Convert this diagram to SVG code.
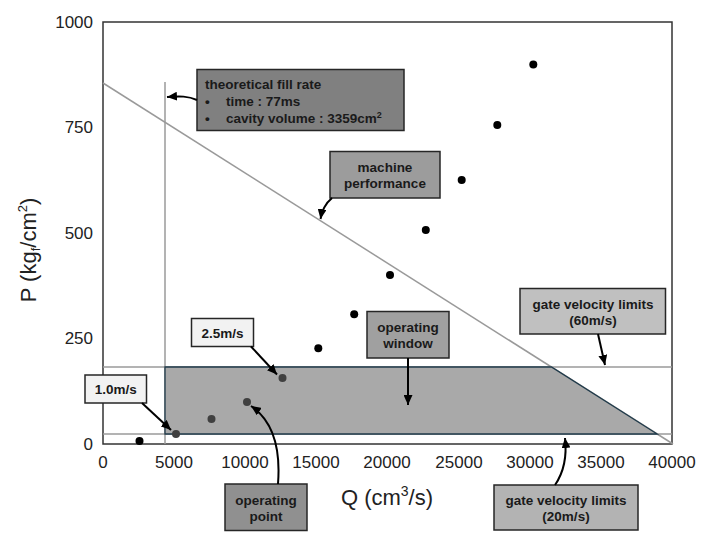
<svg xmlns="http://www.w3.org/2000/svg" width="712" height="547" viewBox="0 0 712 547">
<defs>
<marker id="ah" markerUnits="userSpaceOnUse" markerWidth="11" markerHeight="9" refX="10" refY="4.5" orient="auto">
<path d="M0,0 L10,4.5 L0,9 z" fill="#000"/>
</marker>
<style>
.tick{font-family:"Liberation Sans",Arial,sans-serif;font-size:17px;fill:#222}
.title{font-family:"Liberation Sans",Arial,sans-serif;font-size:22px;fill:#222}
.box{stroke:#262626;stroke-width:1.5}
.lbl{font-family:"Liberation Sans",Arial,sans-serif;font-size:13.5px;font-weight:bold;fill:#1a1a1a}
.guide{stroke:#9a9a9a;stroke-width:1.5;fill:none}
.dot{fill:#000}
.dotin{fill:#404040}
.conn{stroke:#000;stroke-width:2;fill:none;marker-end:url(#ah)}
</style>
</defs>
<rect width="712" height="547" fill="#fff"/>

<g id="axes">
<rect x="103" y="22" width="569" height="422" fill="none" stroke="#333" stroke-width="1.5"/>
<g class="tick" text-anchor="end">
<text x="93" y="28">1000</text>
<text x="93" y="133">750</text>
<text x="93" y="239">500</text>
<text x="93" y="344">250</text>
<text x="93" y="450">0</text>
</g>
<g class="tick" text-anchor="middle">
<text x="103" y="468">0</text>
<text x="174" y="468">5000</text>
<text x="245" y="468">10000</text>
<text x="316" y="468">15000</text>
<text x="387" y="468">20000</text>
<text x="459" y="468">25000</text>
<text x="530" y="468">30000</text>
<text x="601" y="468">35000</text>
<text x="672" y="468">40000</text>
</g>
<text class="title" x="387" y="505" text-anchor="middle">Q (cm<tspan font-size="14" dy="-9">3</tspan><tspan dy="9">/s)</tspan></text>
<text class="title" transform="translate(36,250) rotate(-90)" text-anchor="middle">P (kg<tspan font-size="13" dy="4">f</tspan><tspan dy="-4">/cm</tspan><tspan font-size="13" dy="-9">2</tspan><tspan dy="9">)</tspan></text>
</g>

<g id="guides">
<line class="guide" x1="165" y1="82" x2="165" y2="444"/>
<line class="guide" x1="103" y1="83" x2="673" y2="444"/>
<line class="guide" x1="103" y1="367" x2="672" y2="367"/>
<line class="guide" x1="103" y1="434" x2="672" y2="434"/>
</g>

<g id="operating-window-area">
<polygon points="165,367 551.4,367 657.2,434 165,434" fill="#a9a9a9" stroke="#1f3a4a" stroke-width="1.3"/>
</g>

<g id="data-points">
<circle class="dot" cx="139.5" cy="441" r="4"/>
<circle class="dotin" cx="176" cy="434" r="4"/>
<circle class="dotin" cx="211.5" cy="419" r="4"/>
<circle class="dotin" cx="247" cy="402" r="4"/>
<circle class="dotin" cx="282.5" cy="378" r="4"/>
<circle class="dot" cx="318.3" cy="348.3" r="4"/>
<circle class="dot" cx="354.2" cy="314.3" r="4"/>
<circle class="dot" cx="390" cy="275" r="4"/>
<circle class="dot" cx="425.8" cy="230" r="4"/>
<circle class="dot" cx="461.7" cy="180" r="4"/>
<circle class="dot" cx="497.3" cy="125" r="4"/>
<circle class="dot" cx="533.3" cy="64.5" r="4"/>
</g>

<g id="fill-rate-note">
<rect class="box" x="197" y="69.5" width="207" height="61" fill="#808080"/>
<text class="lbl" x="205" y="89">theoretical fill rate</text>
<text class="lbl" x="205" y="106">•</text>
<text class="lbl" x="226" y="106">time : 77ms</text>
<text class="lbl" x="205" y="123">•</text>
<text class="lbl" x="226" y="123">cavity volume : 3359cm<tspan font-size="9" dy="-5">2</tspan></text>
</g>

<g id="machine-performance">
<rect class="box" x="330" y="151.5" width="110" height="46.5" fill="#9c9c9c"/>
<text class="lbl" x="385" y="172" text-anchor="middle">machine</text>
<text class="lbl" x="385" y="188" text-anchor="middle">performance</text>
</g>

<g id="gate-60">
<rect class="box" x="520" y="288.5" width="145.5" height="45.5" fill="#c0c0c0"/>
<text class="lbl" x="593" y="309" text-anchor="middle">gate velocity limits</text>
<text class="lbl" x="593" y="325" text-anchor="middle">(60m/s)</text>
</g>

<g id="operating-window">
<rect class="box" x="367" y="311.5" width="82" height="46.5" fill="#a0a0a0"/>
<text class="lbl" x="408" y="332" text-anchor="middle">operating</text>
<text class="lbl" x="408" y="348" text-anchor="middle">window</text>
</g>

<g id="v25">
<rect class="box" x="191.5" y="318.5" width="62" height="28" fill="#f2f2f2"/>
<text class="lbl" x="222.5" y="337.5" text-anchor="middle">2.5m/s</text>
</g>

<g id="v10">
<rect class="box" x="85" y="375" width="61.5" height="28" fill="#f2f2f2"/>
<text class="lbl" x="115.8" y="394" text-anchor="middle">1.0m/s</text>
</g>

<g id="operating-point">
<rect class="box" x="225" y="484" width="82" height="46.5" fill="#909090"/>
<text class="lbl" x="266" y="504.5" text-anchor="middle">operating</text>
<text class="lbl" x="266" y="520.5" text-anchor="middle">point</text>
</g>

<g id="gate-20">
<rect class="box" x="494" y="485" width="144" height="45" fill="#b3b3b3"/>
<text class="lbl" x="566" y="505" text-anchor="middle">gate velocity limits</text>
<text class="lbl" x="566" y="521" text-anchor="middle">(20m/s)</text>
</g>

<g id="connectors">
<path class="conn" d="M197,100 C188,96 180,96 167,97"/>
<path class="conn" d="M332,198 C326,203 322,210 320.5,219"/>
<path class="conn" d="M598,334 L605,365"/>
<path class="conn" d="M408,358 L408,405"/>
<path class="conn" d="M251,346.5 L277,374.5"/>
<path class="conn" d="M142,403 L171,430"/>
<path class="conn" d="M278,484 C281,445 272,420 251,406"/>
<path class="conn" d="M555,485 C564,472 567,456 565,438"/>
</g>
</svg>
